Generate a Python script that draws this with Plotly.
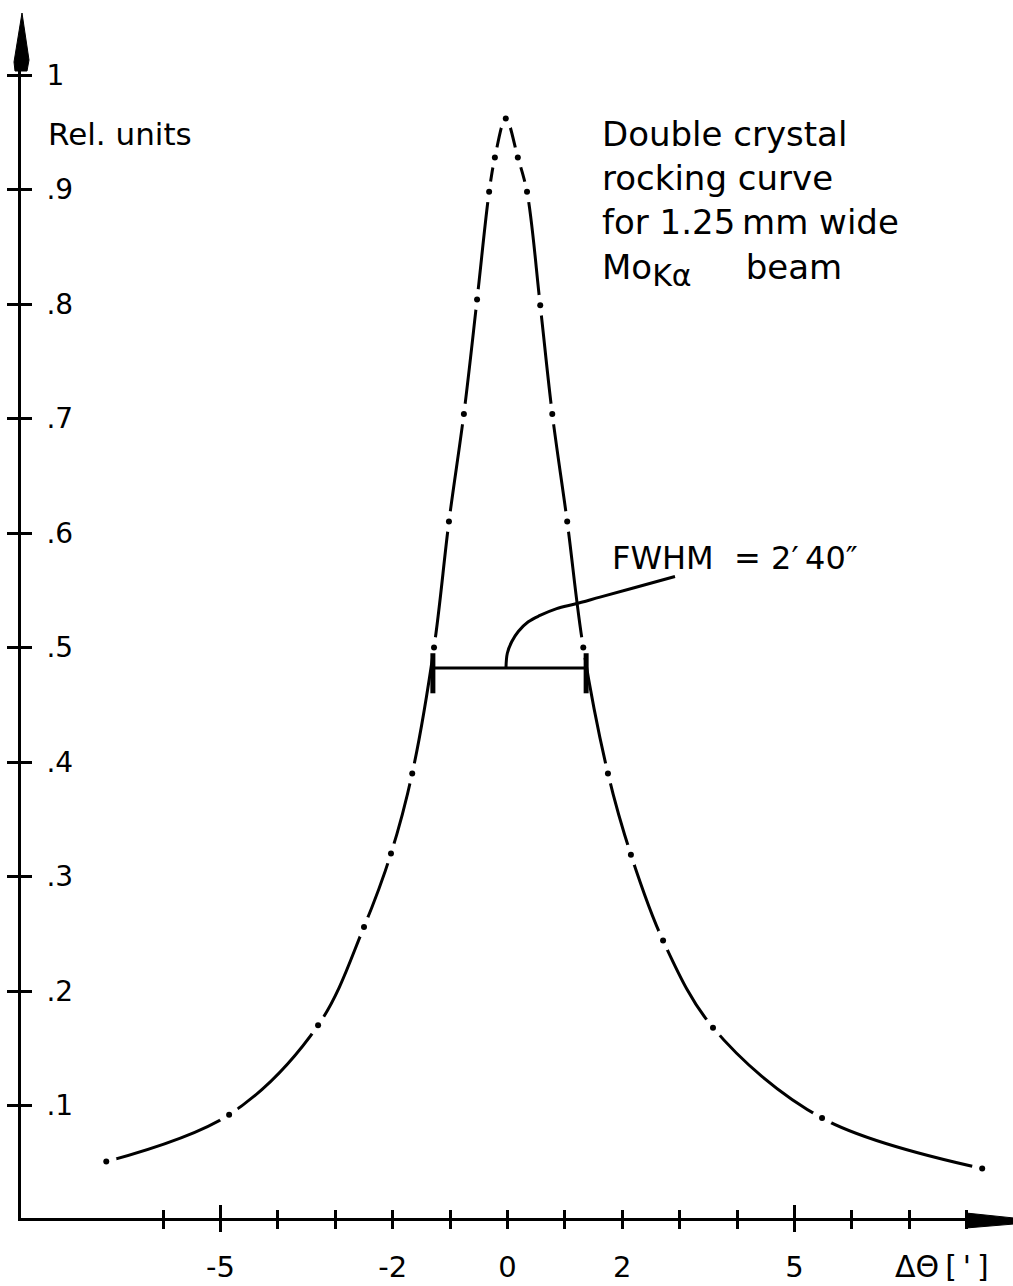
import plotly.graph_objects as go

# ---------------- data ----------------
theta = [-6.99, -4.85, -3.30, -2.50, -2.03, -1.66, -1.28, -1.02, -0.76, -0.53,
         -0.32, -0.22, -0.03, 0.18, 0.34, 0.57, 0.78, 1.04, 1.32, 1.75,
         2.15, 2.71, 3.58, 5.48, 8.27]
intensity = [0.051, 0.092, 0.170, 0.256, 0.320, 0.390, 0.500, 0.610, 0.704, 0.804,
             0.898, 0.928, 0.962, 0.928, 0.898, 0.799, 0.704, 0.610, 0.500, 0.390,
             0.319, 0.244, 0.168, 0.089, 0.045]

fwhm_x = [-1.30, 1.37]
fwhm_y = 0.482
fwhm_tick_y = [0.460, 0.495]

lead_x = [-0.026, -0.003, 0.073, 0.188, 0.362, 0.566, 0.857, 1.176, 1.611, 2.192, 2.918]
lead_y = [0.483, 0.495, 0.505, 0.514, 0.5225, 0.528, 0.534, 0.538, 0.544, 0.552, 0.562]

x_label_vals = [-5, -2, 0, 2, 5]
x_label_text = ["-5", "-2", "0", "2", "5"]
x_big_ticks = [-5, 5]
x_small_ticks = [-6, -4, -3, -2, -1, 0, 1, 2, 3, 4, 6, 7, 8]
x_minor_ticks = [-6, -4, -3, -1, 1, 3, 4, 6, 7, 8]
y_tick_vals = [0.1, 0.2, 0.3, 0.4, 0.5, 0.6, 0.7, 0.8, 0.9, 1.0]
y_tick_text = [".1", ".2", ".3", ".4", ".5", ".6", ".7", ".8", ".9", "1"]

# ---------------- geometry ----------------
W, H = 1013, 1286
L, R, T, B = 21, 1005, 40, 1218
X0, XS = 507.5, 57.4      # pixel of x=0, px per unit
Y0, YS = 1220.0, 1145.0   # pixel of y=0, px per unit
xr = [(L - X0) / XS, (R - X0) / XS]
yr = [(Y0 - B) / YS, (Y0 - T) / YS]


def px(x):
    return (x - L) / (R - L)


def py(y):
    return (B - y) / (B - T)


FONT = "DejaVu Sans"
INK = "black"

fig = go.Figure()

# curve line
fig.add_trace(go.Scatter(x=theta, y=intensity, mode="lines",
                         line=dict(color=INK, width=3, shape="spline"),
                         hoverinfo="skip", showlegend=False))
# gaps around measured points
fig.add_trace(go.Scatter(x=theta, y=intensity, mode="markers",
                         marker=dict(color="white", size=21, line=dict(width=0)),
                         hoverinfo="skip", showlegend=False))
# FWHM bar
fig.add_trace(go.Scatter(x=fwhm_x, y=[fwhm_y, fwhm_y], mode="lines",
                         line=dict(color=INK, width=3), hoverinfo="skip", showlegend=False))
for xv in fwhm_x:
    fig.add_trace(go.Scatter(x=[xv, xv], y=fwhm_tick_y, mode="lines",
                             line=dict(color=INK, width=5), hoverinfo="skip", showlegend=False))
# leader curve
fig.add_trace(go.Scatter(x=lead_x, y=lead_y, mode="lines",
                         line=dict(color=INK, width=3, shape="spline"),
                         hoverinfo="skip", showlegend=False))
# dots
fig.add_trace(go.Scatter(x=theta, y=intensity, mode="markers",
                         marker=dict(color=INK, size=6, line=dict(width=0)),
                         hoverinfo="skip", showlegend=False))
# dummy traces for overlay axes
fig.add_trace(go.Scatter(x=[0], y=[0.5], xaxis="x2", yaxis="y2", mode="markers",
                         marker=dict(opacity=0), hoverinfo="skip", showlegend=False))
fig.add_trace(go.Scatter(x=[0], y=[0.5], xaxis="x3", yaxis="y", mode="markers",
                         marker=dict(opacity=0), hoverinfo="skip", showlegend=False))

common = dict(showgrid=False, zeroline=False, fixedrange=True, automargin=False)

fig.update_layout(
    width=W, height=H, autosize=False,
    margin=dict(l=L, r=W - R, t=T, b=H - B, pad=0, autoexpand=False),
    paper_bgcolor="white", plot_bgcolor="white",
    font=dict(family=FONT, color=INK),
    showlegend=False,
    xaxis=dict(range=xr, showline=True, linecolor=INK, linewidth=3,
               tickmode="array", tickvals=x_label_vals, ticktext=x_label_text,
               ticks="outside", ticklen=8, tickwidth=2.5, tickcolor=INK,
               tickfont=dict(size=29, family=FONT, color=INK), ticklabelstandoff=13,
               minor=dict(tickmode="array", tickvals=x_minor_ticks, ticks="outside",
                          ticklen=8, tickwidth=2.5, tickcolor=INK, showgrid=False),
               **common),
    xaxis2=dict(range=xr, overlaying="x", anchor="y", side="bottom", showline=False,
                tickmode="array", tickvals=x_big_ticks, ticks="inside", ticklen=13,
                tickwidth=2.5, tickcolor=INK, showticklabels=False,
                minor=dict(tickmode="array", tickvals=x_small_ticks, ticks="inside",
                           ticklen=8, tickwidth=2.5, tickcolor=INK, showgrid=False),
                **common),
    xaxis3=dict(range=xr, overlaying="x", anchor="y", side="bottom", showline=False,
                tickmode="array", tickvals=x_big_ticks, ticks="outside", ticklen=13,
                tickwidth=2.5, tickcolor=INK, showticklabels=False, **common),
    yaxis=dict(range=yr, showline=True, linecolor=INK, linewidth=3,
               tickmode="array", tickvals=y_tick_vals, ticks="outside", ticklen=11,
               tickwidth=2.5, tickcolor=INK, showticklabels=False, **common),
    yaxis2=dict(range=yr, overlaying="y", anchor="x", side="left", showline=False,
                tickmode="array", tickvals=y_tick_vals, ticktext=y_tick_text,
                ticks="inside", ticklen=11, tickwidth=2.5, tickcolor=INK,
                ticklabelposition="inside", ticklabelstandoff=17,
                tickfont=dict(size=28, family=FONT, color=INK), **common),
)

# axis arrowheads
fig.add_shape(type="path", xref="paper", yref="paper", layer="above",
              path=(f"M {px(22)} {py(13)} L {px(29)} {py(60)} L {px(27)} {py(71)} "
                    f"L {px(15)} {py(71)} L {px(14)} {py(62)} Z"),
              fillcolor=INK, line=dict(color=INK, width=1))
fig.add_shape(type="path", xref="paper", yref="paper", layer="above",
              path=(f"M {px(966)} {py(1213)} L {px(1014)} {py(1218)} L {px(1014)} {py(1224)} "
                    f"L {px(966)} {py(1228)} Z"),
              fillcolor=INK, line=dict(color=INK, width=1))

# texts
fig.add_annotation(xref="paper", yref="paper", x=px(46), y=py(134),
                   xanchor="left", yanchor="middle", showarrow=False,
                   text="Rel. units", font=dict(size=31, family=FONT, color=INK))
fig.add_annotation(xref="paper", yref="paper", x=px(600), y=py(112),
                   xanchor="left", yanchor="top", showarrow=False, align="left",
                   text=("Double crystal<br>rocking curve<br>for 1.25\u2009mm wide<br>"
                         "Mo<sub><span style='font-size:30px'>K\u03b1</span></sub>"
                         "\u00a0\u00a0\u00a0\u00a0\u00a0beam"),
                   font=dict(size=34, family=FONT, color=INK))
fig.add_annotation(xref="paper", yref="paper", x=px(610), y=py(558),
                   xanchor="left", yanchor="middle", showarrow=False,
                   text="FWHM\u00a0 = 2\u2032\u200940\u2033",
                   font=dict(size=32, family=FONT, color=INK))
fig.add_annotation(xref="paper", yref="paper", x=px(942), y=py(1266),
                   xanchor="center", yanchor="middle", showarrow=False,
                   text="\u0394\u0398\u2009[\u2009'\u2009]",
                   font=dict(size=30, family=FONT, color=INK))

fig.write_html("out.html")
